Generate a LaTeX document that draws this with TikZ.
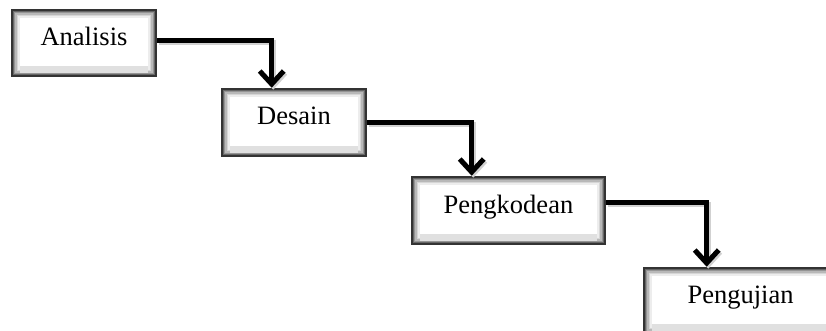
\documentclass[tikz,border=0pt]{standalone}
\usepackage{fontspec}
\setmainfont{Liberation Serif}
\usetikzlibrary{arrows.meta}
\begin{document}
\begin{tikzpicture}[x=1pt,y=-1pt,
  box/.style={draw=black!80, line width=2.6pt, fill=white, inner sep=0pt,
    path picture={
      \foreach \i/\c in {1/60,2.5/42,4/28,5.5/16,7/7}{
        \draw[line width=1.6pt, black!\c]
          ([shift={(\i pt,\i pt)}]path picture bounding box.south west) rectangle
          ([shift={(-\i pt,-\i pt)}]path picture bounding box.north east);}
      \fill[black!12] ([shift={(8pt,3pt)}]path picture bounding box.south west) rectangle
          ([shift={(-8pt,10pt)}]path picture bounding box.south east);
    }},
  lbl/.style={font=\fontsize{26.5}{28}\selectfont, inner sep=0pt, anchor=base, yshift=-2.5pt},
  conn/.style={line width=5pt, -{Straight Barb[length=13pt,width=24pt,line width=5pt]}},
  connshadow/.style={line width=5pt, black!18, -{Straight Barb[length=13pt,width=24pt,line width=5pt]}}
]
\clip (0,0) rectangle (826,331);
\fill[white] (0,0) rectangle (826,331);

\node[box, minimum width=144pt, minimum height=66pt] (a) at (84,43) {};
\node[box, minimum width=144pt, minimum height=67pt] (d) at (294,122.5) {};
\node[box, minimum width=193pt, minimum height=67pt] (p) at (508.5,210.5) {};
\node[box, minimum width=193pt, minimum height=66pt] (u) at (740.5,301) {};

\node[lbl] (la) at (a.center) {Analisis};
\node[lbl] (ld) at (d.center) {Desain};
\node[lbl] (lp) at (p.center) {Pengkodean};
\node[lbl] (lu) at (u.center) {Pengujian};

\coordinate (da) at ([xshift=51pt]d.north west);
\coordinate (pa) at ([xshift=61pt]p.north west);
\coordinate (ua) at ([xshift=64pt]u.north west);

\begin{scope}[transform canvas={shift={(1.5pt,-2pt)}}]
\draw[connshadow] ([yshift=2pt]a.east) -| (da);
\draw[connshadow] (d.east) -| (pa);
\draw[connshadow] ([yshift=8pt]p.east) -| (ua);
\end{scope}

\draw[conn] ([yshift=2pt]a.east) -| (da);
\draw[conn] (d.east) -| (pa);
\draw[conn] ([yshift=8pt]p.east) -| (ua);
\end{tikzpicture}
\end{document}
